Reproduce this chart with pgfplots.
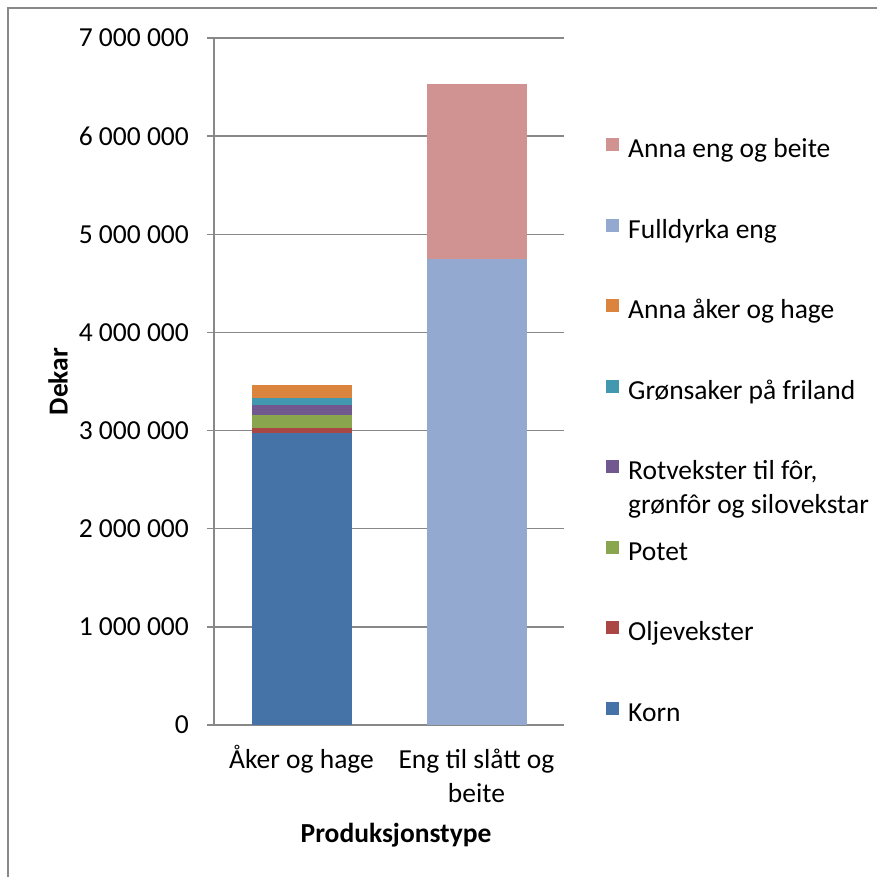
\documentclass[border=0pt]{standalone}
\usepackage{pgfplots}
\pgfplotsset{compat=1.18}
\usepackage{fontspec}
\setmainfont{Carlito}
\definecolor{cKorn}{HTML}{4572A7}
\definecolor{cOlje}{HTML}{AA4643}
\definecolor{cPotet}{HTML}{89A54E}
\definecolor{cRot}{HTML}{71588F}
\definecolor{cGron}{HTML}{4198AF}
\definecolor{cAaker}{HTML}{DB843D}
\definecolor{cFull}{HTML}{93A9CF}
\definecolor{cAeng}{HTML}{D19392}
\definecolor{gridgray}{HTML}{888888}
\begin{document}
\fontsize{27.5bp}{34bp}\selectfont
\begin{tikzpicture}
\path[use as bounding box] (0,0) rectangle (877bp,877bp);
\draw[gridgray, line width=1.5bp] (8bp,0) -- (8bp,869bp) -- (877bp,869bp);
\begin{axis}[
  at={(214bp,152bp)}, anchor=south west,
  scale only axis, width=350bp, height=687bp,
  ybar stacked, bar width=100bp,
  xmin=-0.5, xmax=1.5, ymin=0, ymax=7000000,
  enlargelimits=false,
  axis x line*=bottom, axis y line*=left,
  axis line style={gridgray, line width=1.5bp, -},
  xtick={0,1},
  xticklabels={\strut Åker og hage,{\strut Eng til slått og\\beite}},
  xtick style={draw=none},
  xticklabel style={align=center, anchor=north, inner sep=0pt, yshift=-13bp},
  ytick={0,1000000,2000000,3000000,4000000,5000000,6000000,7000000},
  yticklabels={0,1 000 000,2 000 000,3 000 000,4 000 000,5 000 000,6 000 000,7 000 000},
  scaled y ticks=false,
  yticklabel style={anchor=east, inner sep=0pt, xshift=-18bp},
  tick align=outside, major tick length=7bp,
  ytick style={gridgray, line width=1.5bp},
  ymajorgrids, grid style={gridgray, line width=1.5bp},
  ylabel={\bfseries Dekar},
  ylabel style={at={(axis description cs:-0.4457,0.5)}, anchor=center},
  xlabel={\bfseries Produksjonstype},
  xlabel style={at={(axis description cs:0.52,-0.16)}, anchor=center},
  legend style={draw=none, fill=none, at={(392bp,587bp)}, anchor=north west, inner sep=0pt,
    legend cell align=left, row sep=55bp,
    nodes={inner sep=0pt, text height=19bp, text depth=6bp}},
  reverse legend,
  legend image code/.code={\fill[#1] (0bp,0bp) rectangle (13bp,13bp); \path (22bp,0bp);},
  every axis plot/.append style={draw=none},
]
\addplot[fill=cKorn] coordinates {(0,2972000) (1,0)};
\addlegendentry{Korn}
\addplot[fill=cOlje] coordinates {(0,57000) (1,0)};
\addlegendentry{Oljevekster}
\addplot[fill=cPotet] coordinates {(0,130000) (1,0)};
\addlegendentry{Potet}
\addplot[fill=cRot] coordinates {(0,99000) (1,0)};
\addlegendentry{\smash{\parbox[t]{300bp}{Rotvekster til fôr,\\grønfôr og silovekstar}}}
\addplot[fill=cGron] coordinates {(0,74000) (1,0)};
\addlegendentry{Grønsaker på friland}
\addplot[fill=cAaker] coordinates {(0,132000) (1,0)};
\addlegendentry{Anna åker og hage}
\addplot[fill=cFull] coordinates {(0,0) (1,4745000)};
\addlegendentry{Fulldyrka eng}
\addplot[fill=cAeng] coordinates {(0,0) (1,1786000)};
\addlegendentry{Anna eng og beite}
\end{axis}
\end{tikzpicture}
\end{document}
